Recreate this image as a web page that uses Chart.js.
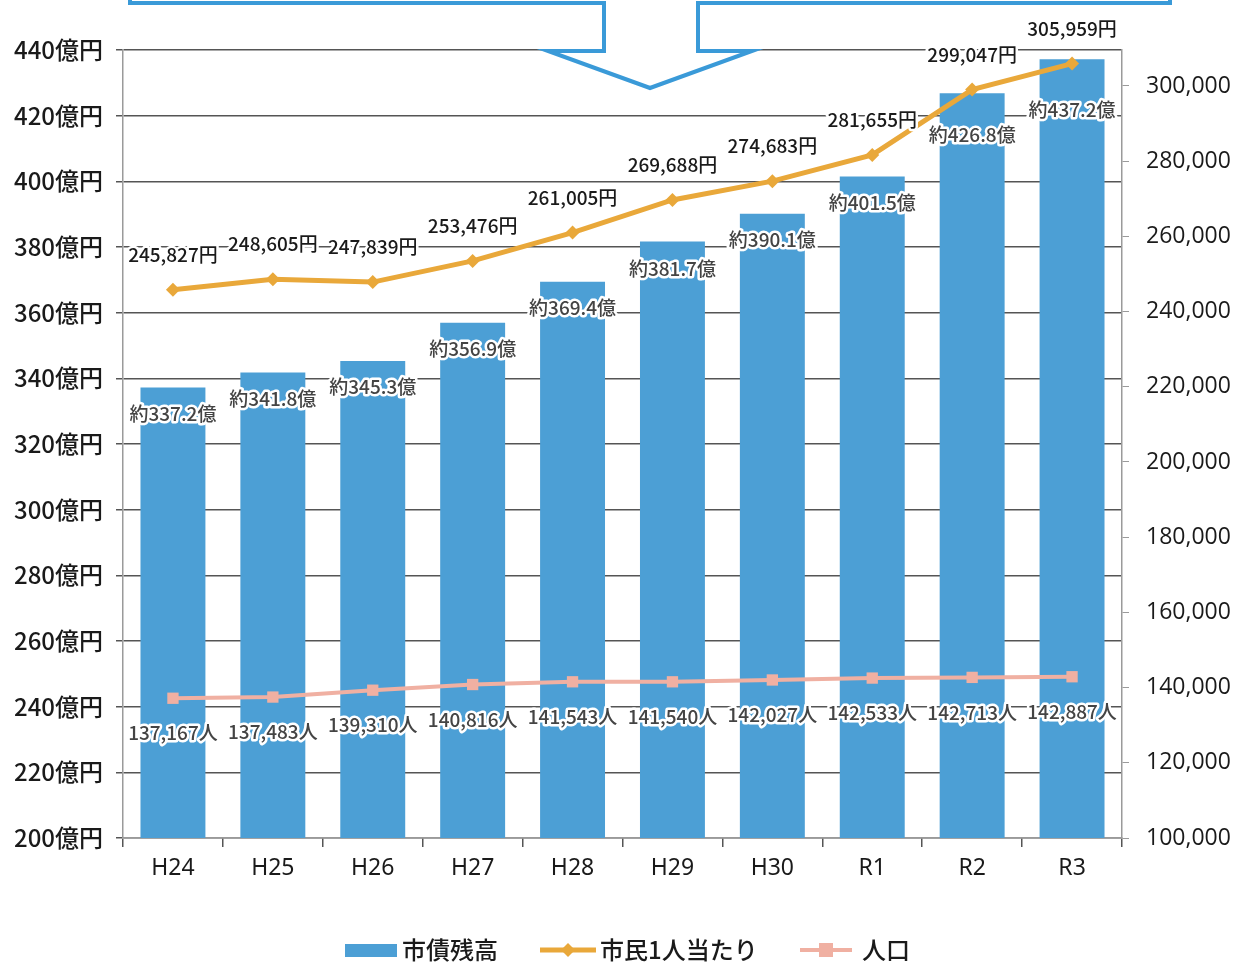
<!DOCTYPE html>
<html lang="ja">
<head>
<meta charset="utf-8">
<title>市債残高の推移</title>
<script src="https://cdn.jsdelivr.net/npm/chart.js@4.4.1/dist/chart.umd.min.js"></script>
<style>
  html, body { margin: 0; padding: 0; background: #fff; }
  #wrap { position: relative; width: 1240px; height: 964px; }
</style>
</head>
<body>
<div id="wrap"><canvas id="debtChart" width="1240" height="964"></canvas></div>
<script>
/* ---------- data ---------- */
const years = ['H24', 'H25', 'H26', 'H27', 'H28', 'H29', 'H30', 'R1', 'R2', 'R3'];
const debtOku = [337.2, 341.8, 345.3, 356.9, 369.4, 381.7, 390.1, 401.5, 426.8, 437.2];      // 市債残高 (億円)
const perCapitaYen = [245827, 248605, 247839, 253476, 261005, 269688, 274683, 281655, 299047, 305959]; // 市民1人当たり
const population = [137167, 137483, 139310, 140816, 141543, 141540, 142027, 142533, 142713, 142887];  // 人口
const leftTicks = [200, 220, 240, 260, 280, 300, 320, 340, 360, 380, 400, 420, 440];
const rightTicks = [100000, 120000, 140000, 160000, 180000, 200000, 220000, 240000, 260000, 280000, 300000];

/* ---------- look ---------- */
const COL = {
    bar: '#4c9fd5',
    perCapita: '#e9a83a',
    pop: '#f0b0a2',
    grid: '#555555',
    axis: '#9a9a9a',
    text: '#1a1a1a',
    label: '#444444',
    arrow: '#3a9ad8',
};
const SANS = "'Noto Sans CJK JP', 'Noto Sans', sans-serif";
const fmt = n => n.toLocaleString('en-US');

// how far each bar label sits under its bar top (last two moved clear of the line)
const barLabelDrop = [26, 26, 26, 26, 26, 27, 26, 26, 41, 51];

/* ---------- value labels ---------- */
const valueLabels = {
    id: 'valueLabels',
    afterDatasetsDraw(chart) {
        const ctx = chart.ctx;
        const put = (txt, x, y, color) => {
            ctx.lineJoin = 'round';
            ctx.lineWidth = 5;
            ctx.strokeStyle = '#fff';
            ctx.strokeText(txt, x, y);
            ctx.fillStyle = color;
            ctx.fillText(txt, x, y);
        };
        ctx.save();
        ctx.font = '500 19px ' + SANS;
        ctx.textAlign = 'center';
        ctx.textBaseline = 'middle';

        chart.getDatasetMeta(0).data.forEach((bar, i) => {
            put('約' + debtOku[i].toFixed(1) + '億', bar.x, bar.y + barLabelDrop[i], COL.label);
        });
        chart.getDatasetMeta(1).data.forEach((pt, i) => {
            put(fmt(perCapitaYen[i]) + '円', pt.x, pt.y - 35, COL.text);
        });
        chart.getDatasetMeta(2).data.forEach((pt, i) => {
            put(fmt(population[i]) + '人', pt.x, pt.y + 35, COL.label);
        });
        ctx.restore();
    }
};

/* ---------- arrow from the panel above + legend ---------- */
const decor = {
    id: 'decor',
    afterDraw(chart) {
        const ctx = chart.ctx;
        ctx.save();

        // panel edge with the down arrow
        ctx.beginPath();
        ctx.moveTo(130, -4);
        ctx.lineTo(130, 3);
        ctx.lineTo(604, 3);
        ctx.lineTo(604, 51);
        ctx.lineTo(548, 51);
        ctx.lineTo(650, 88);
        ctx.lineTo(752, 51);
        ctx.lineTo(698, 51);
        ctx.lineTo(698, 3);
        ctx.lineTo(1170, 3);
        ctx.lineTo(1170, -4);
        ctx.closePath();
        ctx.fillStyle = '#fff';
        ctx.fill();
        ctx.lineWidth = 4;
        ctx.strokeStyle = COL.arrow;
        ctx.lineJoin = 'miter';
        ctx.stroke();

        // legend
        const y = 950;
        ctx.font = '500 24px ' + SANS;
        ctx.textBaseline = 'middle';
        ctx.textAlign = 'left';

        ctx.fillStyle = COL.bar;
        ctx.fillRect(345, y - 6, 52, 13);
        ctx.fillStyle = COL.text;
        ctx.fillText('市債残高', 402, y);

        ctx.strokeStyle = COL.perCapita;
        ctx.lineWidth = 5;
        ctx.beginPath(); ctx.moveTo(540, y); ctx.lineTo(596, y); ctx.stroke();
        ctx.fillStyle = COL.perCapita;
        ctx.beginPath();
        ctx.moveTo(568, y - 7); ctx.lineTo(575, y); ctx.lineTo(568, y + 7); ctx.lineTo(561, y);
        ctx.closePath(); ctx.fill();
        ctx.fillStyle = COL.text;
        ctx.fillText('市民1人当たり', 600, y);

        ctx.strokeStyle = COL.pop;
        ctx.lineWidth = 4;
        ctx.beginPath(); ctx.moveTo(800, y); ctx.lineTo(852, y); ctx.stroke();
        ctx.fillStyle = COL.pop;
        ctx.fillRect(819, y - 7, 14, 14);
        ctx.fillStyle = COL.text;
        ctx.fillText('人口', 862, y);

        ctx.restore();
    }
};

/* ---------- chart ---------- */
const ctx = document.getElementById('debtChart').getContext('2d');

new Chart(ctx, {
    data: {
        labels: years,
        datasets: [
            {
                type: 'bar',
                label: '市債残高',
                data: debtOku,
                yAxisID: 'y',
                backgroundColor: COL.bar,
                borderWidth: 0,
                barPercentage: 0.65,
                categoryPercentage: 1.0,
                order: 3,
            },
            {
                type: 'line',
                label: '市民1人当たり',
                data: perCapitaYen,
                yAxisID: 'y2',
                borderColor: COL.perCapita,
                backgroundColor: COL.perCapita,
                borderWidth: 5,
                pointStyle: 'rectRot',
                pointRadius: 7,
                pointBorderWidth: 0,
                tension: 0,
                order: 1,
            },
            {
                type: 'line',
                label: '人口',
                data: population,
                yAxisID: 'y2',
                borderColor: COL.pop,
                backgroundColor: COL.pop,
                borderWidth: 4,
                pointStyle: 'rect',
                pointRadius: 8,
                pointBorderWidth: 0,
                tension: 0,
                order: 2,
            },
        ],
    },
    options: {
        responsive: false,
        animation: false,
        layout: { padding: { top: 50, left: 0, right: 0, bottom: 0 } },
        plugins: {
            legend: { display: false },
            tooltip: { enabled: false },
        },
        scales: {
            x: {
                offset: true,
                grid: {
                    offset: true,
                    drawOnChartArea: false,
                    drawTicks: true,
                    tickLength: 9,
                    color: COL.grid,
                    lineWidth: 1.5,
                },
                border: { display: true, color: COL.axis, width: 1.5 },
                ticks: {
                    font: { family: "'Noto Sans', sans-serif", size: 23 },
                    color: COL.text,
                    padding: 8,
                },
                afterFit: s => { s.height = 126; },
            },
            y: {
                position: 'left',
                min: leftTicks[0],
                max: leftTicks[leftTicks.length - 1],
                afterBuildTicks: s => { s.ticks = leftTicks.map(v => ({ value: v })); },
                grid: {
                    color: COL.grid,
                    lineWidth: 1.5,
                    tickLength: 7,
                },
                border: { display: true, color: COL.axis, width: 1.5 },
                ticks: {
                    font: { family: SANS, size: 24, weight: '500' },
                    color: COL.text,
                    padding: 13,
                    callback: v => v + '億円',
                },
                afterFit: s => { s.width = 123; },
            },
            y2: {
                position: 'right',
                min: rightTicks[0],
                max: 309570,
                afterBuildTicks: s => { s.ticks = rightTicks.map(v => ({ value: v })); },
                grid: {
                    drawOnChartArea: false,
                    color: COL.axis,
                    lineWidth: 1,
                    tickLength: 7,
                },
                border: { display: true, color: COL.axis, width: 1.5 },
                ticks: {
                    font: { family: "'Open Sans', 'Noto Sans', sans-serif", size: 23 },
                    color: COL.text,
                    padding: 17,
                    callback: v => fmt(v),
                },
                afterFit: s => { s.width = 118; },
            },
        },
    },
    plugins: [valueLabels, decor],
});
</script>
</body>
</html>
